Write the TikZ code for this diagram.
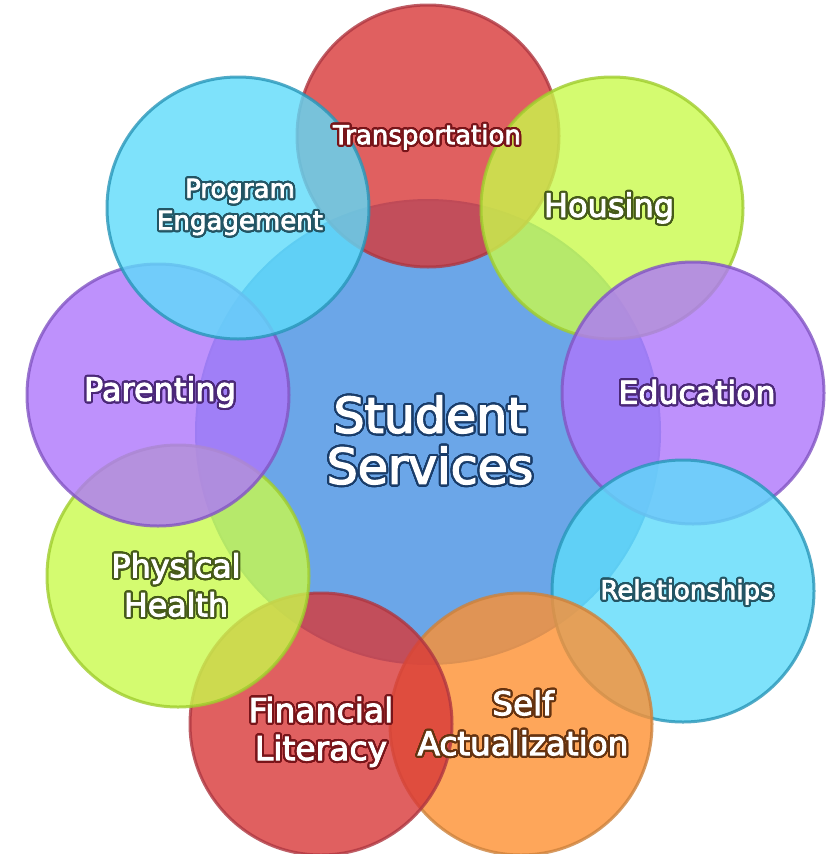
\documentclass[tikz,border=0pt]{standalone}
\usepackage{fontspec}
\setmainfont{DejaVu Sans}
\newfontfamily\lblfont[FakeBold=3]{DejaVu Sans}
\usepackage{contour}
\contourlength{2.1pt}
\contournumber{32}
\definecolor{cRed}{RGB}{216,56,56}
\definecolor{cRedB}{RGB}{175,55,65}
\definecolor{cRedT}{RGB}{120,20,25}
\definecolor{cCyan}{RGB}{94,219,250}
\definecolor{cCyanB}{RGB}{40,150,185}
\definecolor{cCyanT}{RGB}{35,85,100}
\definecolor{cLime}{RGB}{201,250,76}
\definecolor{cLimeB}{RGB}{160,205,45}
\definecolor{cLimeT}{RGB}{70,90,25}
\definecolor{cPurp}{RGB}{174,118,251}
\definecolor{cPurpB}{RGB}{130,85,195}
\definecolor{cPurpT}{RGB}{75,40,120}
\definecolor{cOrng}{RGB}{254,144,49}
\definecolor{cOrngB}{RGB}{205,130,60}
\definecolor{cOrngT}{RGB}{100,50,15}
\definecolor{cBlue}{RGB}{107,166,232}
\definecolor{cBlueB}{RGB}{92,150,215}
\definecolor{cBlueT}{RGB}{25,60,105}
\newcommand{\olbl}[2]{\contour{#1}{#2}}
\tikzset{
  bub/.style={circle, inner sep=0pt, minimum size=262pt, line width=3pt,
    fill opacity=0.8, draw opacity=0.8},
  redbub/.style={bub, fill=cRed, draw=cRedB},
  cyanbub/.style={bub, fill=cCyan, draw=cCyanB},
  limebub/.style={bub, fill=cLime, draw=cLimeB},
  purpbub/.style={bub, fill=cPurp, draw=cPurpB},
  orngbub/.style={bub, fill=cOrng, draw=cOrngB},
  lbl/.style={inner sep=0pt, align=center, text=white},
}
\begin{document}
\begin{tikzpicture}[x=1pt,y=-1pt]
\useasboundingbox (0,0) rectangle (838,854);
% central circle
\node[circle, inner sep=0pt, minimum size=464pt, fill=cBlue, draw=cBlueB, line width=2pt] (center) at (428,432) {};
% outer circles
\node[redbub]  (trans) at (428,136) {};
\node[limebub] (hous)  at (612,208) {};
\node[purpbub] (educ)  at (693,393) {};
\node[cyanbub] (rela)  at (683,591) {};
\node[orngbub] (self)  at (521,724) {};
\node[redbub]  (fina)  at (321,724) {};
\node[limebub] (phys)  at (178,576) {};
\node[purpbub] (pare)  at (158,395) {};
\node[cyanbub] (prog)  at (238,208) {};
% labels
\node[lbl, font={\lblfont\fontsize{49}{51}\selectfont}] (tcenter) at (430,441)
  {\olbl{cBlueT}{Student}\\\olbl{cBlueT}{Services}};
\node[lbl, font={\lblfont\fontsize{26}{30}\selectfont}] (ttrans) at (427,138) {\olbl{cRedT}{Transportation}};
\node[lbl, font={\lblfont\fontsize{32}{36}\selectfont}] (thous) at (609,209) {\olbl{cLimeT}{Housing}};
\node[lbl, font={\lblfont\fontsize{31.5}{36}\selectfont}] (teduc) at (697,393) {\olbl{cPurpT}{Education}};
\node[lbl, font={\lblfont\fontsize{26}{30}\selectfont}] (trela) at (687,593) {\olbl{cCyanT}{Relationships}};
\node[lbl, font={\lblfont\fontsize{32.6}{40}\selectfont}] (tself) at (523,724)
  {\olbl{cOrngT}{Self}\\\olbl{cOrngT}{Actualization}};
\node[lbl, font={\lblfont\fontsize{33}{38}\selectfont}] (tfina) at (321,733)
  {\olbl{cRedT}{Financial}\\\olbl{cRedT}{Literacy}};
\node[lbl, font={\lblfont\fontsize{31.7}{39}\selectfont}] (tphys) at (176,586)
  {\olbl{cLimeT}{Physical}\\\olbl{cLimeT}{Health}};
\node[lbl, font={\lblfont\fontsize{32}{36}\selectfont}] (tpare) at (160,393) {\olbl{cPurpT}{Parenting}};
\node[lbl, font={\lblfont\fontsize{26}{32}\selectfont}] (tprog) at (240,208)
  {\olbl{cCyanT}{Program}\\\olbl{cCyanT}{Engagement}};
\end{tikzpicture}
\end{document}
